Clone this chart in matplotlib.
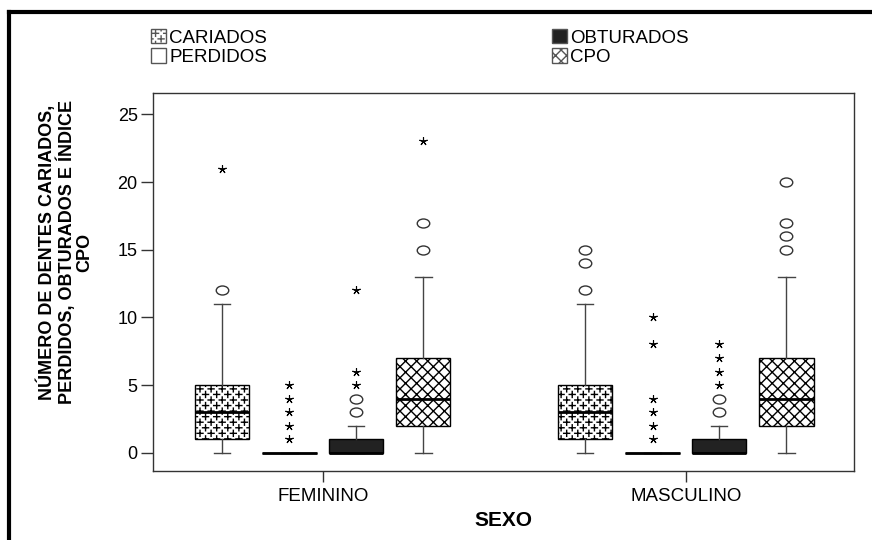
import warnings
import numpy as np
import matplotlib
matplotlib.use("Agg")
import matplotlib.pyplot as plt
import matplotlib.hatch as mhatch
from matplotlib.path import Path
from matplotlib.patches import Patch
from matplotlib.lines import Line2D
from matplotlib.transforms import Affine2D

warnings.filterwarnings("ignore", message="hatch must consist")

groups = ["FEMININO", "MASCULINO"]
series = ["CARIADOS", "PERDIDOS", "OBTURADOS", "CPO"]

# box summaries: lower whisker, Q1, median, Q3, upper whisker
fem_stats = [
    [0, 1, 3, 5, 11],   # cariados
    [0, 0, 0, 0, 0],    # perdidos
    [0, 0, 0, 1, 2],    # obturados
    [0, 2, 4, 7, 13],   # cpo
]
mas_stats = [
    [0, 1, 3, 5, 11],
    [0, 0, 0, 0, 0],
    [0, 0, 0, 1, 2],
    [0, 2, 4, 7, 13],
]

# outliers (o) and extreme values (*)
fem_circles = [[12], [], [3, 4], [15, 17]]
fem_stars = [[21], [1, 2, 3, 4, 5], [5, 6, 12], [23]]
mas_circles = [[12, 14, 15], [], [3, 4], [15, 16, 17, 20]]
mas_stars = [[], [1, 2, 3, 4, 8, 10], [5, 6, 7, 8], []]


class PlusHatch(mhatch.HatchPatternBase):
    """Staggered rows of small '+' signs, selected with 'p'."""

    def __init__(self, hatch, density):
        n = 9 * hatch.count("p")
        self.centres = []
        if n:
            step = 1.0 / n
            for r in range(2 * n + 1):
                shift = step / 2 if r % 2 else 0.0
                for x in np.arange(shift, 1.0 + 1e-9, step):
                    self.centres.append((x, r * step / 2))
        self.num_vertices = 4 * len(self.centres)

    def set_vertices_and_codes(self, vertices, codes):
        a = 0.03
        for i, (x, y) in enumerate(self.centres):
            vertices[4 * i:4 * i + 4] = [(x - a, y), (x + a, y), (x, y - a), (x, y + a)]
            codes[4 * i:4 * i + 4] = [Path.MOVETO, Path.LINETO, Path.MOVETO, Path.LINETO]


mhatch._hatch_types.append(PlusHatch)

plt.rcParams["font.family"] = ["Liberation Sans", "DejaVu Sans"]
plt.rcParams["hatch.linewidth"] = 1.0

styles = [
    dict(facecolor="white", hatch="p"),
    dict(facecolor="white", hatch=None),
    dict(facecolor="#222222", hatch=None),
    dict(facecolor="white", hatch="xxx"),
]
offsets = [-0.277, -0.092, 0.092, 0.277]
width = 0.149

# slightly flattened circle for the outlier marker
oval = Path.unit_circle().transformed(Affine2D().scale(1.0, 0.72))

fig = plt.figure(figsize=(8.72, 5.4), dpi=100)
ax = fig.add_axes([153 / 872, 1 - 471 / 540, 701 / 872, 377.7 / 540])

for gi, (stats, circles, stars) in enumerate(
        [(fem_stats, fem_circles, fem_stars), (mas_stats, mas_circles, mas_stars)]):
    for si, s in enumerate(stats):
        pos = gi + offsets[si]
        bstat = dict(whislo=s[0], q1=s[1], med=s[2], q3=s[3], whishi=s[4], fliers=[])
        res = ax.bxp([bstat], positions=[pos], widths=width, patch_artist=True,
                     showfliers=False,
                     boxprops=dict(edgecolor="black", linewidth=1.0),
                     whiskerprops=dict(color="#444444", linewidth=1.0),
                     capprops=dict(color="#444444", linewidth=1.0),
                     medianprops=dict(color="black", linewidth=2.0))
        box = res["boxes"][0]
        box.set_facecolor(styles[si]["facecolor"])
        if styles[si]["hatch"]:
            box.set_hatch(styles[si]["hatch"])
        for c in res["caps"]:
            c.set_xdata([pos - width * 0.15, pos + width * 0.15])
        if circles[si]:
            ax.plot([pos] * len(circles[si]), circles[si], linestyle="none",
                    marker=oval, markersize=9, markerfacecolor="white",
                    markeredgecolor="#333333", markeredgewidth=1.0)
        if stars[si]:
            ax.plot([pos] * len(stars[si]), stars[si], linestyle="none",
                    marker=(5, 2, 0), markersize=6, markeredgecolor="black",
                    markeredgewidth=0.8)

ax.set_xlim(-0.468, 1.463)
ax.set_ylim(-1.35, 26.56)
ax.set_yticks([0, 5, 10, 15, 20, 25])
ax.set_xticks([0, 1])
ax.set_xticklabels(groups)
for sp in ax.spines.values():
    sp.set_color("#333333")
    sp.set_linewidth(1.0)
ax.tick_params(axis="y", length=9, width=1, color="#333333", labelsize=13, pad=2)
ax.tick_params(axis="x", length=8, width=1, color="#333333", labelsize=13.5, pad=4)

fig.text(65 / 872, 1 - 252 / 540,
         "NÚMERO DE DENTES CARIADOS,\nPERDIDOS, OBTURADOS E ÍNDICE\nCPO",
         rotation=90, ha="center", va="center", multialignment="center",
         fontsize=13, fontweight="bold", linespacing=1.0)
fig.text(503.5 / 872, 1 - 520 / 540, "SEXO", ha="center", va="center",
         fontsize=15, fontweight="bold")

handles = [Patch(facecolor=st["facecolor"], hatch=st["hatch"], edgecolor="#555555",
                 linewidth=1.0, label=name) for st, name in zip(styles, series)]
for hs, x in [(handles[:2], 151), (handles[2:], 552)]:
    fig.legend(handles=hs, loc="upper left", bbox_to_anchor=(x / 872, 1 - 29 / 540),
               frameon=False, fontsize=13.5, borderpad=0, borderaxespad=0,
               handlelength=0.78, handleheight=0.78, handletextpad=0.2,
               labelspacing=0.1)

# outer frame (left and top edges)
fig.add_artist(Line2D([8.5 / 872, 8.5 / 872], [0, 1 - 11.5 / 540],
                      transform=fig.transFigure, color="black", linewidth=3))
fig.add_artist(Line2D([8.5 / 872, 1], [1 - 11.5 / 540, 1 - 11.5 / 540],
                      transform=fig.transFigure, color="black", linewidth=3))

fig.savefig("out.png", dpi=100)
